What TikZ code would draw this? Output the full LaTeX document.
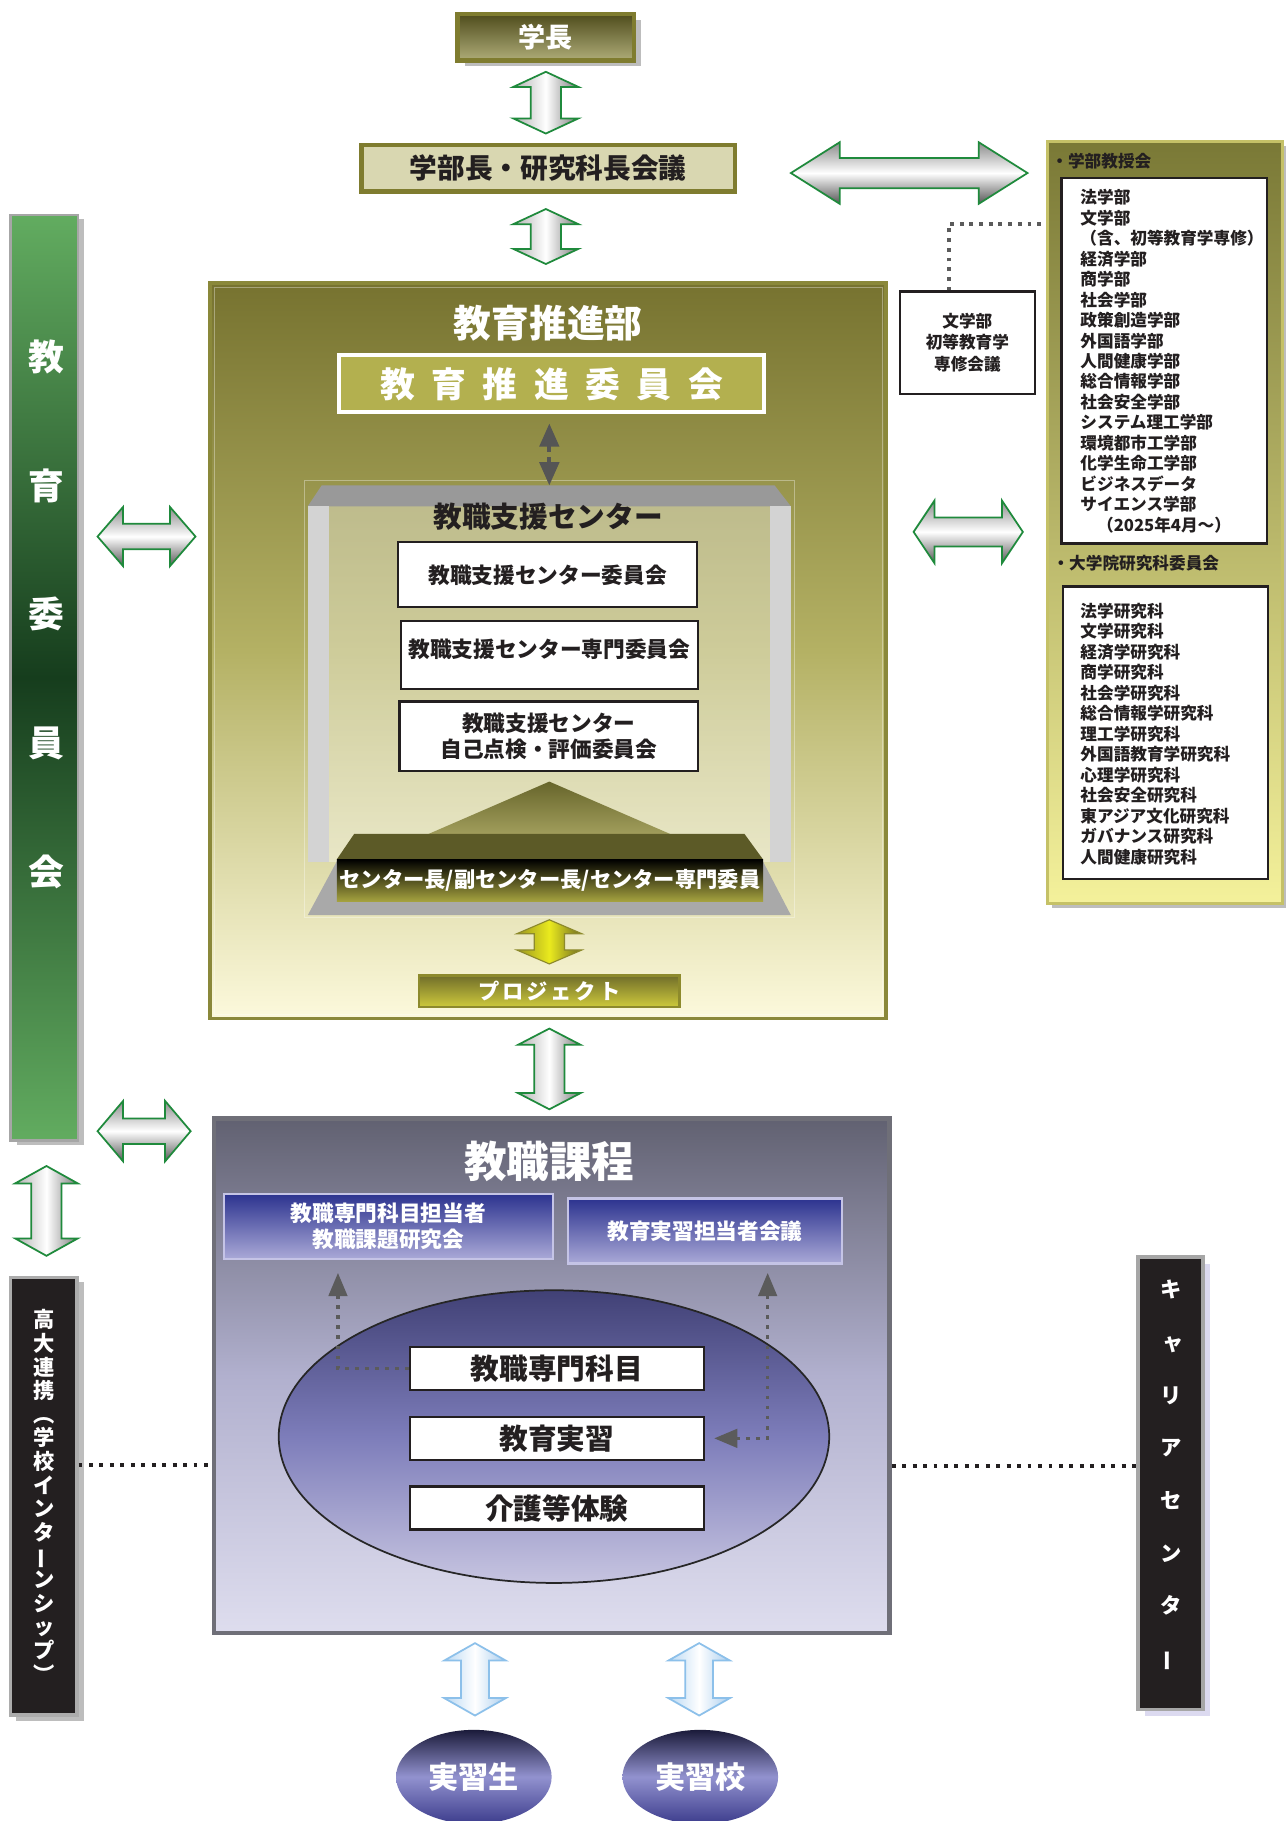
\documentclass[tikz,border=0pt]{standalone}
\usepackage{fontspec}
\setmainfont{Noto Sans CJK JP}
\usetikzlibrary{calc,fit,arrows.meta,shapes.geometric}
\newcommand\unitpx{0.6pt}
\newcommand\fzz[2]{\bfseries\fontsize{#1}{#2}\selectfont}
\newcommand\vfat[6]{%
 \path[#1] let \p1=(#2), \p2=(#3) in
  (\p1) -- (\x1+#4*\unitpx,\y1-#6*\unitpx) -- (\x1+#5*\unitpx,\y1-#6*\unitpx)
  -- (\x1+#5*\unitpx,\y2+#6*\unitpx) -- (\x1+#4*\unitpx,\y2+#6*\unitpx) -- (\x1,\y2)
  -- (\x1-#4*\unitpx,\y2+#6*\unitpx) -- (\x1-#5*\unitpx,\y2+#6*\unitpx)
  -- (\x1-#5*\unitpx,\y1-#6*\unitpx) -- (\x1-#4*\unitpx,\y1-#6*\unitpx) -- cycle;}
\newcommand\hfat[6]{%
 \path[#1] let \p1=(#2), \p2=(#3) in
  (\p1) -- (\x1+#6*\unitpx,\y1+#4*\unitpx) -- (\x1+#6*\unitpx,\y1+#5*\unitpx)
  -- (\x2-#6*\unitpx,\y1+#5*\unitpx) -- (\x2-#6*\unitpx,\y1+#4*\unitpx) -- (\x2,\y1)
  -- (\x2-#6*\unitpx,\y1-#4*\unitpx) -- (\x2-#6*\unitpx,\y1-#5*\unitpx)
  -- (\x1+#6*\unitpx,\y1-#5*\unitpx) -- (\x1+#6*\unitpx,\y1-#4*\unitpx) -- cycle;}
\definecolor{olv}{HTML}{7F7C2F}
\definecolor{gkTop}{HTML}{4F4C1C}
\definecolor{gkBot}{HTML}{AEAC78}
\definecolor{buFill}{HTML}{D9D7B1}
\definecolor{sbTop}{HTML}{777330}
\definecolor{sbMid}{HTML}{B4B164}
\definecolor{sbBot}{HTML}{FCF9DC}
\definecolor{sbBorder}{HTML}{8A883A}
\definecolor{iinFill}{HTML}{B3B04F}
\definecolor{darkarrow}{HTML}{555555}
\definecolor{frameTop}{HTML}{999999}
\definecolor{pillar}{HTML}{D3D3D3}
\definecolor{frameBot}{HTML}{A9A9A9}
\definecolor{triTop}{HTML}{67652B}
\definecolor{triBot}{HTML}{C7C37C}
\definecolor{roof}{HTML}{5C5A27}
\definecolor{bandBot}{HTML}{A5A23F}
\definecolor{projTop}{HTML}{716E2A}
\definecolor{projBot}{HTML}{CDC93C}
\definecolor{projBorder}{HTML}{8D8A2C}
\definecolor{yArrL}{HTML}{9A9520}
\definecolor{yArrM}{HTML}{EAEA1E}
\definecolor{yArrR}{HTML}{6E6A22}
\definecolor{kyTop}{HTML}{62AC60}
\definecolor{kyMid}{HTML}{163D1D}
\definecolor{kdFill}{HTML}{231F20}
\definecolor{katTop}{HTML}{616171}
\definecolor{katMid}{HTML}{B1B0CE}
\definecolor{katBot}{HTML}{DEDDEE}
\definecolor{katBorder}{HTML}{6F6F78}
\definecolor{blTop}{HTML}{2C338F}
\definecolor{blBot}{HTML}{AAA9D7}
\definecolor{blBorder}{HTML}{C5C4E6}
\definecolor{elTop}{HTML}{414176}
\definecolor{elMid}{HTML}{7D7DBA}
\definecolor{elBot}{HTML}{C6C4E0}
\definecolor{ovTop}{HTML}{1B1B3A}
\definecolor{ovMid}{HTML}{9292CF}
\definecolor{ovBot}{HTML}{3C3C8C}
\definecolor{garr}{HTML}{1F8A3C}
\definecolor{gvL}{HTML}{B0B0B0}
\definecolor{gvR}{HTML}{7A7A7A}
\definecolor{ghT}{HTML}{8C8C8C}
\definecolor{ghB}{HTML}{555555}
\definecolor{barrL}{HTML}{B9D8F3}
\definecolor{barrR}{HTML}{A9CDEE}
\definecolor{barrD}{HTML}{8CC0EA}
\definecolor{pnTop}{HTML}{7A7936}
\definecolor{pnBot}{HTML}{F4F19B}
\definecolor{pnBorder}{HTML}{C5C167}
\definecolor{txt}{HTML}{231F20}
\definecolor{dotgray}{HTML}{5B5B5B}
\definecolor{shadowgray}{HTML}{BDBDBD}
\definecolor{lavshadow}{HTML}{DCDAF0}
\begin{document}
\begin{tikzpicture}[x=0.6pt,y=-0.6pt,
  wbox/.style={draw=txt,line width=1.1pt,fill=white,inner sep=0pt},
  gvarrow/.style={draw=garr,line width=0.9pt,left color=gvL,right color=gvR,middle color=white},
  gharrow/.style={draw=garr,line width=0.9pt,top color=ghT,bottom color=ghB,middle color=white},
  yarrow/.style={draw=projBorder,line width=0.6pt,left color=yArrL,right color=yArrR,middle color=yArrM},
  barrow/.style={draw=barrD,line width=0.9pt,left color=barrL,right color=barrR,middle color=white},
  blackdots/.style={draw=txt,line width=2pt,dash pattern=on 2pt off 3.4pt},
  graydots/.style={draw=dotgray,line width=2.2pt,dash pattern=on 2pt off 3pt},
  arrowdots/.style={draw=dotgray,line width=1.8pt,dash pattern=on 1.8pt off 3.4pt,
     >={Triangle[length=12pt,width=9.5pt]}},
  fitbox/.style={inner sep=0pt},
  dk/.style={text=txt,inner sep=0pt,align=center},
  wt/.style={text=white,inner sep=0pt,align=center}]
\fill[white] (0,0) rectangle (1107,1568);
\useasboundingbox (0,0) rectangle (1107,1568);

% ---------- top ----------
\fill[shadowgray] (400,17) rectangle (552,57);
\node[fitbox,fit={(394,12) (546,52)},draw=olv,line width=2.2pt,top color=gkTop,bottom color=gkBot] (gakucho) {};
\node[wt,font=\fzz{14}{16}] (gakuchotext) at (gakucho.center) {学長};
\node[fitbox,fit={(311,125) (633,165)},draw=olv,line width=2.4pt,fill=buFill] (bucho) {};
\node[dk,font=\fzz{14.3}{16}] (buchotext) at (bucho.center) {学部長・研究科長会議};

% ---------- right panel ----------
\fill[shadowgray] (906,126) rectangle (1107,782);
\node[fitbox,fit={(902,122) (1104,778)},draw=pnBorder,line width=1.5pt,top color=pnTop,bottom color=pnBot] (panel) {};
\node[dk,anchor=west,font=\fzz{8.6}{10}] (fachead) at (905,139) {・学部教授会};
\node[fitbox,fit={(914,153) (1091,468)},draw=txt,line width=1.1pt,fill=white] (facbox) {};
\node[dk,anchor=west,align=left,font=\fzz{8.6}{10.56}] (faclist) at (930,311)
 {法学部\\文学部\\（含、初等教育学専修）\\経済学部\\商学部\\社会学部\\政策創造学部\\外国語学部\\人間健康学部\\総合情報学部\\社会安全学部\\システム理工学部\\環境都市工学部\\化学生命工学部\\ビジネスデータ\\サイエンス学部\\\hspace*{1em}（2025年4月～）};
\node[dk,anchor=west,font=\fzz{8.6}{10}] (gradhead) at (906,485) {・大学院研究科委員会};
\node[fitbox,fit={(915,505) (1092,757)},draw=txt,line width=1.1pt,fill=white] (gradbox) {};
\node[dk,anchor=west,align=left,font=\fzz{8.6}{10.6}] (gradlist) at (930,632)
 {法学研究科\\文学研究科\\経済学研究科\\商学研究科\\社会学研究科\\総合情報学研究科\\理工学研究科\\外国語教育学研究科\\心理学研究科\\社会安全研究科\\東アジア文化研究科\\ガバナンス研究科\\人間健康研究科};

% ---------- 文学部 box ----------
\node[fitbox,fit={(775,251) (891,339)},draw=txt,line width=1.1pt,fill=white] (shoto) {};
\node[dk,font=\fzz{8.6}{11.1}] (shototext) at (shoto.center) {文学部\\初等教育学\\専修会議};
\draw[graydots] ($(shoto.north west)+(43,0)$) |- ($(panel.north west)+(0,72)$);

% ---------- 教育推進部 ----------
\node[fitbox,fit={(181,244) (763,877)},draw=sbBorder,line width=2pt,top color=sbTop,bottom color=sbBot,middle color=sbMid] (suishinbu) {};
\draw[white,opacity=0.35,line width=0.5pt] ($(suishinbu.north west)+(5,5)$) rectangle ($(suishinbu.south east)+(-5,-5)$);
\node[wt,font=\fzz{19.5}{22}] (suishintitle) at (472,278) {教育推進部};
\node[fitbox,fit={(292,306) (658,355)},draw=white,line width=2pt,fill=iinFill] (iinkai) {};
\node[wt,font=\fzz{18}{20}] (iinkaitext) at (iinkai.center)
 {教\hspace{8.5pt}育\hspace{8.5pt}推\hspace{8.5pt}進\hspace{8.5pt}委\hspace{8.5pt}員\hspace{8.5pt}会};

% frame of 教職支援センター
\draw[white,opacity=0.35,line width=0.5pt] (262,414) rectangle (684,790);
\fill[white,opacity=0.35] (283,436) rectangle (663,742);
\fill[frameTop] (277,418) -- (667,418) -- (681,436) -- (265,436) -- cycle;
\fill[pillar] (265,436) rectangle (283,742);
\fill[pillar] (663,436) rectangle (681,742);
\fill[frameBot] (292,738) -- (655,738) -- (681,788) -- (265,788) -- cycle;
\coordinate (frametop) at (473,418);
\coordinate (framebot) at (473,788);
\node[dk,font=\fzz{14.8}{16}] (centertitle) at (472,445) {教職支援センター};
\node[wbox,fit={(343,467) (600,523)}] (c1) {};
\node[dk,font=\fzz{11.2}{13}] (c1text) at (c1.center) {教職支援センター委員会};
\node[wbox,fit={(345,535) (601,593)}] (c2) {};
\node[dk,font=\fzz{11.2}{13}] (c2text) at ($(c2.center)+(0,-5)$) {教職支援センター専門委員会};
\node[wbox,fit={(344,604) (601,664)}] (c3) {};
\node[dk,font=\fzz{11.2}{13.2}] (c3text) at (c3.center) {教職支援センター\\自己点検・評価委員会};
\path[top color=triTop,bottom color=triBot] (473,673) -- (646,748) -- (300,748) -- cycle;
\fill[roof] (305,718) -- (641,718) -- (657,740) -- (290,740) -- cycle;
\node[fitbox,fit={(290,740) (657,776)},top color=black,bottom color=bandBot] (chouband) {};
\node[wt,font=\fzz{11}{13}] (choubandtext) at (chouband.center) {センター長/副センター長/センター専門委員};
\draw[darkarrow,line width=2pt,dash pattern=on 3pt off 3pt,{Triangle[length=12pt,width=10pt]}-{Triangle[length=12pt,width=10pt]}]
  ($(frametop |- iinkai.south)+(0,8)$) -- (frametop);

% プロジェクト
\node[fitbox,fit={(361,840) (585,867)},draw=projBorder,line width=1.2pt,top color=projTop,bottom color=projBot] (proj) {};
\node[wt,font=\fzz{11}{13}] (projtext) at (proj.center)
 {プ\hspace{1.5pt}ロ\hspace{1.5pt}ジ\hspace{1.5pt}ェ\hspace{1.5pt}ク\hspace{1.5pt}ト};
\coordinate (yt) at ($(framebot)+(0,4)$);
\coordinate (yb) at ($(proj.north)+(0,-9)$);
\vfat{yarrow}{yt}{yb}{28}{13}{12}

% ---------- top arrows ----------
\coordinate (a1t) at ($(gakucho.south)+(0,8)$);
\coordinate (a1b) at ($(a1t |- bucho.north)+(0,-8)$);
\vfat{gvarrow}{a1t}{a1b}{28}{13}{13}
\coordinate (a2t) at ($(a1t |- bucho.south)+(0,13)$);
\coordinate (a2b) at ($(a2t |- suishinbu.north)+(0,-15)$);
\vfat{gvarrow}{a2t}{a2b}{28}{13}{13}
\coordinate (bl) at ($(bucho.east)+(46,4)$);
\coordinate (br) at ($(panel.west |- bl)+(-16,0)$);
\hfat{gharrow}{bl}{br}{26.5}{13}{42}
\coordinate (ry) at (0,458);
\coordinate (rl) at ($(suishinbu.east |- ry)+(22,0)$);
\coordinate (rr) at ($(panel.west |- ry)+(-20,0)$);
\hfat{gharrow}{rl}{rr}{27}{12.5}{18}

% ---------- 教育委員会 ----------
\fill[shadowgray] (15,189) rectangle (72,986);
\node[fitbox,fit={(9,185) (67,982)},draw=gray!70,line width=1.2pt,top color=kyTop,bottom color=kyTop,middle color=kyMid] (kyoi) {};
\node[wt,font=\fzz{18.5}{66.6}] (kyoitext) at (40,529) {教\\育\\委\\員\\会};

% ---------- 教職課程 ----------
\node[fitbox,fit={(184,963) (766,1406)},draw=katBorder,line width=2.2pt,top color=katTop,bottom color=katBot,middle color=katMid] (katei) {};
\node[wt,font=\fzz{22}{24}] (kateititle) at (473,1000) {教職課程};
\node[fitbox,fit={(193,1028) (476,1084)},draw=blBorder,line width=1.2pt,top color=blTop,bottom color=blBot] (tanto) {};
\node[wt,font=\fzz{11.2}{13.2}] (tantotext) at (tanto.center) {教職専門科目担当者\\教職課題研究会};
\node[fitbox,fit={(489,1032) (725,1088)},draw=blBorder,line width=1.2pt,top color=blTop,bottom color=blBot] (jkaigi) {};
\node[wt,font=\fzz{11.2}{13}] (jkaigitext) at (jkaigi.center) {教育実習担当者会議};
\node[ellipse,inner sep=0pt,minimum width=474*\unitpx,minimum height=252*\unitpx,draw=black!85,line width=0.9pt,top color=elTop,bottom color=elBot,middle color=elMid] (ell) at (477,1237) {};
\node[wbox,fit={(353,1160) (606,1197)}] (senmon) {};
\node[dk,font=\fzz{14.8}{16}] (senmontext) at (senmon.center) {教職専門科目};
\node[wbox,fit={(353,1220) (606,1257)}] (jisshu) {};
\node[dk,font=\fzz{14.8}{16}] (jisshutext) at (jisshu.center) {教育実習};
\node[wbox,fit={(353,1280) (606,1317)}] (kaigo) {};
\node[dk,font=\fzz{14.8}{16}] (kaigotext) at (kaigo.center) {介護等体験};
\coordinate (ltip) at ($(tanto.south west)+(99,11)$);
\draw[arrowdots,->] (senmon.west) -| (ltip);
\coordinate (rtip) at ($(jkaigi.south west)+(173,7)$);
\draw[arrowdots,<->] (rtip) |- ($(jisshu.east)+(8,0)$);

% middle vertical arrow
\coordinate (mt) at ($(suishinbu.south)+(1,7)$);
\coordinate (mb) at ($(mt |- katei.north)+(0,-6)$);
\vfat{gvarrow}{mt}{mb}{27}{13}{14}

% left horizontal arrows
\coordinate (l1y) at (0,462);
\coordinate (l1a) at ($(kyoi.east |- l1y)+(16,0)$);
\coordinate (l1b) at ($(suishinbu.west |- l1y)+(-11,0)$);
\hfat{gharrow}{l1a}{l1b}{25.5}{11}{22}
\coordinate (l2y) at (0,974);
\coordinate (l2a) at ($(kyoi.east |- l2y)+(16,0)$);
\coordinate (l2b) at ($(katei.west |- l2y)+(-18,0)$);
\hfat{gharrow}{l2a}{l2b}{26}{11}{22}

% ---------- 高大連携 ----------
\fill[shadowgray] (14,1104) rectangle (72,1482);
\node[fitbox,fit={(9,1100) (66,1477)},draw=gray!65,line width=2pt,fill=kdFill] (kodai) {};
\node[wt,font=\fzz{11}{12.2}] (kodaitext) at (38,1288)
 {高\\大\\連\\携\\︵\\学\\校\\イ\\ン\\タ\\\rotatebox[origin=c]{90}{ー}\\ン\\シ\\ッ\\プ\\︶};
\coordinate (lvt) at ($(kyoi.south)+(2,21)$);
\coordinate (lvb) at ($(lvt |- kodai.north)+(0,-17)$);
\vfat{gvarrow}{lvt}{lvb}{27}{13}{15}

% ---------- キャリアセンター ----------
\fill[lavshadow] (986,1088) rectangle (1042,1478);
\node[fitbox,fit={(980,1082) (1036,1472)},draw=gray!70,line width=2pt,fill=kdFill] (career) {};
\node[wt,font=\fzz{11}{27.2}] (careertext) at (1008,1271)
 {キ\\\hspace{3pt}ャ\\リ\\ア\\セ\\ン\\タ\\\rotatebox[origin=c]{90}{ー}};

% dotted links
\coordinate (kd) at ($(kodai.north east)+(0,163)$);
\draw[blackdots] (kd) -- (kd -| katei.west);
\coordinate (cd) at ($(career.north west)+(0,182)$);
\draw[blackdots] (cd -| katei.east) -- (cd);

% ---------- 実習生 / 実習校 ----------
\node[ellipse,inner sep=0pt,minimum width=134*\unitpx,minimum height=81*\unitpx,top color=ovTop,bottom color=ovBot,middle color=ovMid] (sei) at (408,1530) {};
\node[wt,font=\fzz{15.6}{17}] (seitext) at (sei.center) {実習生};
\node[ellipse,inner sep=0pt,minimum width=134*\unitpx,minimum height=81*\unitpx,top color=ovTop,bottom color=ovBot,middle color=ovMid] (kou) at (603,1530) {};
\node[wt,font=\fzz{15.6}{17}] (koutext) at (kou.center) {実習校};
\coordinate (b1t) at ($(sei.north |- katei.south)+(1,7)$);
\coordinate (b1b) at ($(b1t |- sei.north)+(0,-12)$);
\vfat{barrow}{b1t}{b1b}{26.5}{12}{15}
\coordinate (b2t) at ($(kou.north |- katei.south)+(-1,7)$);
\coordinate (b2b) at ($(b2t |- kou.north)+(0,-12)$);
\vfat{barrow}{b2t}{b2b}{26.5}{12}{15}
\end{tikzpicture}
\end{document}
